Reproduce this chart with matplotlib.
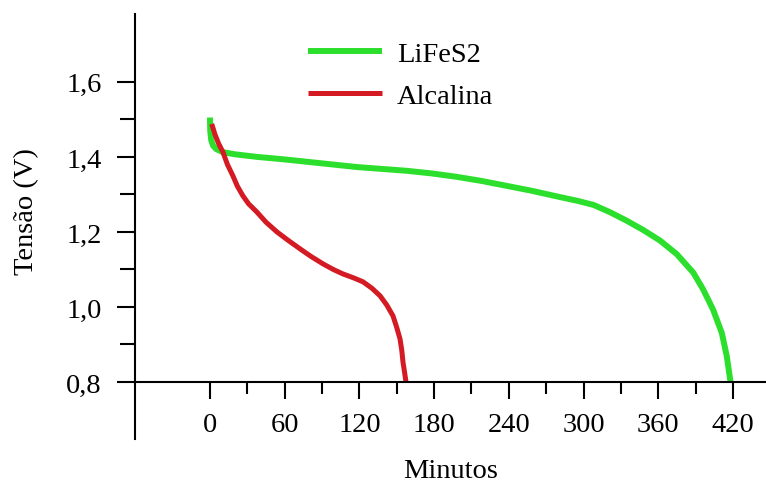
import numpy as np
import matplotlib
matplotlib.use('Agg')
import matplotlib.pyplot as plt

# descarga: tempo (min) x tensao (V)
lifes2_t = [0, 0.2, 1, 2.5, 5, 10, 20, 38, 58, 78, 98, 118, 138, 158, 178, 198, 218, 238, 258, 281,
            295, 308, 321, 334.6, 348, 361.4, 374.8, 388, 396, 404, 411, 415, 418]
lifes2_v = [1.505, 1.470, 1.445, 1.430, 1.421, 1.413, 1.407, 1.400, 1.394, 1.387, 1.380, 1.373, 1.368,
            1.363, 1.356, 1.347, 1.336, 1.323, 1.310, 1.293, 1.283, 1.272, 1.253, 1.230, 1.205, 1.177,
            1.141, 1.092, 1.047, 0.993, 0.931, 0.869, 0.800]
alc_t = [1.4, 4, 7, 10.4, 14, 18.5, 22, 26.5, 31, 37.7, 45, 53.8, 63, 72.3, 81, 90.7, 99, 106.8, 115,
         122.9, 130, 136.5, 142, 147, 150, 152.6, 154, 155, 156.3, 157.4]
alc_v = [1.488, 1.460, 1.435, 1.413, 1.380, 1.349, 1.322, 1.296, 1.275, 1.253, 1.226, 1.200, 1.177,
         1.155, 1.135, 1.115, 1.100, 1.088, 1.078, 1.067, 1.050, 1.030, 1.005, 0.976, 0.945, 0.915,
         0.885, 0.853, 0.825, 0.800]

xticks = [0, 60, 120, 180, 240, 300, 360, 420]
yticks = [0.8, 1.0, 1.2, 1.4, 1.6]
ylabels = ['0,8', '1,0', '1,2', '1,4', '1,6']

plt.rcParams['font.family'] = ['Liberation Serif', 'DejaVu Serif']
fs = 20.5

fig = plt.figure(figsize=(7.66, 4.81), dpi=100)
ax = fig.add_axes([135/766, 1-440/481, 1-135/766, (440-15)/481])

ax.plot(lifes2_t, lifes2_v, color='#2ddf2d', lw=4.3, solid_capstyle='butt', label='LiFeS2')
ax.plot(alc_t, alc_v, color='#d41a22', lw=3.6, solid_capstyle='butt', label='Alcalina')

ax.set_xlim(-60.2, 446.5)
ax.set_ylim(0.648, 1.781)

ax.spines['top'].set_visible(False)
ax.spines['right'].set_visible(False)
ax.spines['bottom'].set_position(('data', 0.8))
ax.spines['left'].set_position(('data', -60.2))
for s in ['left', 'bottom']:
    ax.spines[s].set_linewidth(1.5)

ax.set_xticks(xticks)
ax.set_xticks(np.arange(30, 420, 60), minor=True)
ax.set_yticks(yticks)
ax.set_yticklabels(ylabels)
ax.set_yticks([0.9, 1.1, 1.3, 1.5], minor=True)

ax.tick_params(axis='x', which='major', direction='out', length=12.5, width=1.5, pad=9, labelsize=fs)
ax.tick_params(axis='x', which='minor', direction='out', length=8.5, width=1.5)
ax.tick_params(axis='y', which='major', direction='out', length=13, width=1.5, pad=11, labelsize=fs)
ax.tick_params(axis='y', which='minor', direction='out', length=11, width=1.5)

fig.text(27/766, 1-212/481, 'Tensão (V)', rotation=90, ha='center', va='center', fontsize=fs)
fig.text(451/766, 1-472/481, 'Minutos', ha='center', va='center', fontsize=fs)

ax.legend(loc='upper left', bbox_to_anchor=(308/766, 1-42/481), bbox_transform=fig.transFigure,
          frameon=False, fontsize=fs, handlelength=2.6, handletextpad=0.52, labelspacing=0.55,
          borderpad=0, borderaxespad=0)

fig.savefig('out.png', dpi=100)
